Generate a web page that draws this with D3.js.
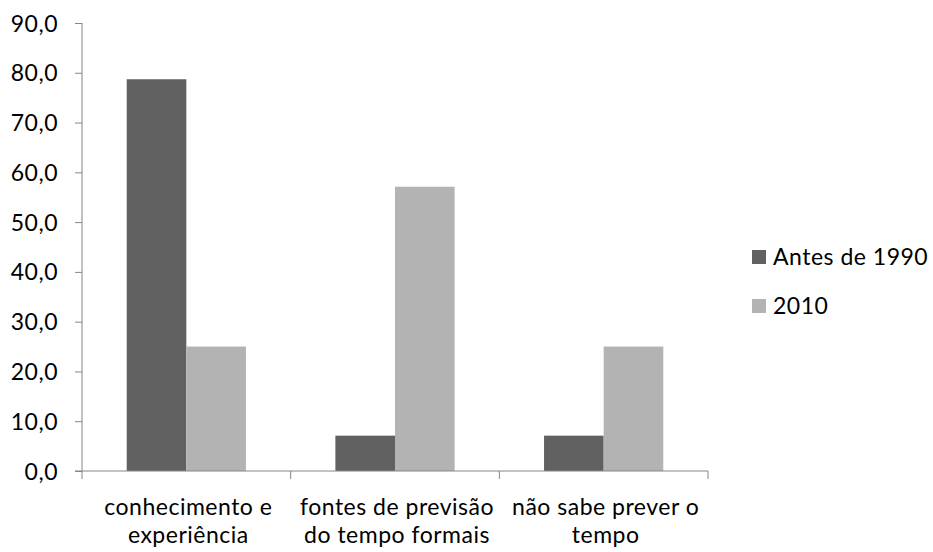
<!DOCTYPE html>
<html>
<head>
<meta charset="utf-8">
<script src="https://cdn.jsdelivr.net/npm/d3@7"></script>
<style>
  html, body { margin: 0; padding: 0; background: #fff; }
  svg text { font-family: Lato, "Open Sans", sans-serif; fill: #000; letter-spacing: 0.5px; }
</style>
</head>
<body>
<svg id="chart" width="933" height="552"></svg>
<script>
// Categories (each label is split into two lines)
const categories = [
  ["conhecimento e", "experiência"],
  ["fontes de previsão", "do tempo formais"],
  ["não sabe prever o", "tempo"]
];
const seriesNames = ["Antes de 1990", "2010"];
const antes1990 = [78.7, 7.1, 7.1];
const ano2010 = [25.0, 57.1, 25.0];
const yTicks = [0, 10, 20, 30, 40, 50, 60, 70, 80, 90];
const colors = ["#616161", "#b3b3b3"];

(function draw() {
  const svg = d3.select("#chart");
  const plotLeft = 82, plotRight = 708, plotTop = 23, plotBottom = 471;
  const fontSize = "23px";

  const x = d3.scaleBand().domain(d3.range(categories.length)).range([plotLeft, plotRight]).paddingInner(0).paddingOuter(0);
  const inner = d3.scaleBand().domain([0, 1]).range([0, x.bandwidth()]).paddingInner(0).paddingOuter(0.75);
  const y = d3.scaleLinear().domain([0, 90]).range([plotBottom, plotTop]);

  const fmt = v => d3.format(".1f")(v).replace(".", ",");

  // Bars
  const series = [antes1990, ano2010];
  series.forEach((vals, si) => {
    svg.append("g").selectAll("rect").data(vals).join("rect")
      .attr("x", (d, i) => x(i) + inner(si))
      .attr("width", inner.bandwidth())
      .attr("y", d => y(d))
      .attr("height", d => y(0) - y(d))
      .attr("fill", colors[si]);
  });

  // Y axis
  const yAxis = d3.axisLeft(y).tickValues(yTicks).tickFormat(fmt).tickSize(7).tickPadding(17);
  const gy = svg.append("g").attr("transform", `translate(${plotLeft},0)`).call(yAxis);
  gy.select(".domain").attr("stroke", "#868686").attr("d", `M0,${plotTop}V${plotBottom}`);
  gy.selectAll(".tick line").attr("stroke", "#868686");
  gy.selectAll(".tick text").style("font-size", fontSize).attr("dy", "0.35em").attr("fill", "#000");

  // X axis (baseline with category separator ticks)
  const gx = svg.append("g").attr("transform", `translate(0,${plotBottom})`);
  gx.append("line").attr("x1", plotLeft - 7).attr("x2", plotRight).attr("y1", 0).attr("y2", 0).attr("stroke", "#868686");
  gx.selectAll("line.sep").data(d3.range(categories.length + 1)).join("line")
    .attr("class", "sep")
    .attr("x1", i => plotLeft + i * x.bandwidth()).attr("x2", i => plotLeft + i * x.bandwidth())
    .attr("y1", 0).attr("y2", 8).attr("stroke", "#868686");

  const labels = gx.selectAll("text.cat").data(categories).join("text")
    .attr("class", "cat")
    .attr("text-anchor", "middle")
    .style("font-size", fontSize);
  labels.each(function(lines, i) {
    const t = d3.select(this);
    lines.forEach((ln, k) => {
      t.append("tspan").attr("x", x(i) + x.bandwidth() / 2 + 2).attr("y", 44 + k * 28).text(ln);
    });
  });

  // Legend
  const lg = svg.append("g").attr("transform", "translate(752,0)");
  seriesNames.forEach((name, i) => {
    const cy = 257 + i * 49;
    lg.append("rect").attr("x", 0).attr("y", cy - 7).attr("width", 14).attr("height", 14).attr("fill", colors[i]);
    lg.append("text").attr("x", 21).attr("y", cy).attr("dy", "0.35em").style("font-size", fontSize).text(name);
  });
})();
</script>
</body>
</html>
